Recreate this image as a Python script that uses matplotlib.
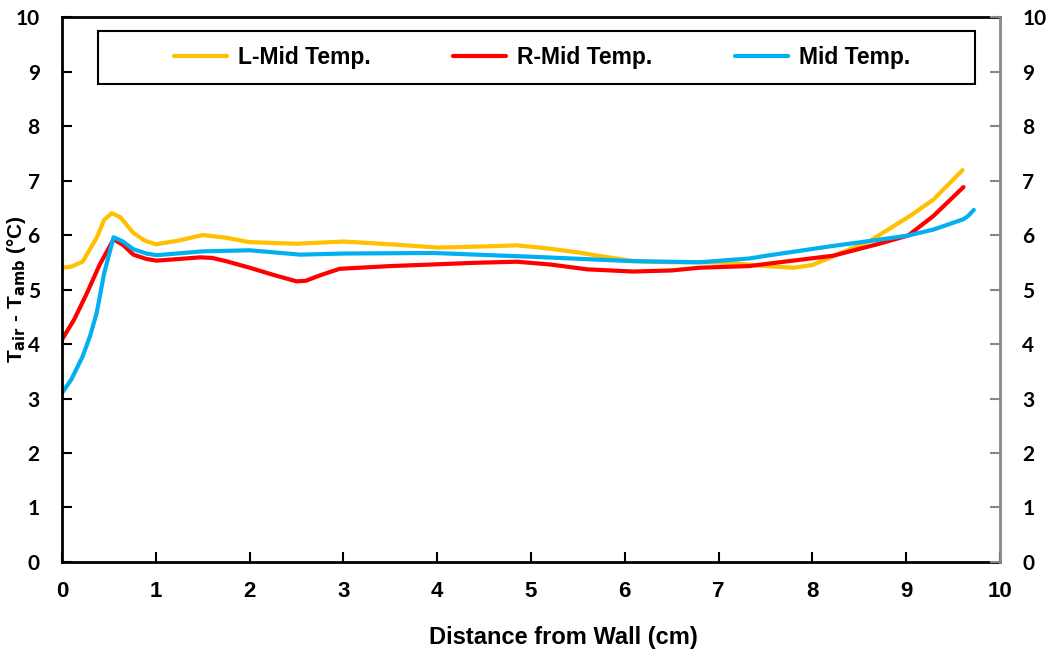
import matplotlib.pyplot as plt
from matplotlib.patches import Rectangle

# Temperature rise above ambient along the distance from the wall
x_left = [0, 0.1, 0.22, 0.37, 0.45, 0.53, 0.62, 0.76, 0.88, 1.0, 1.25, 1.5, 1.75,
          2.0, 2.5, 3.0, 3.5, 4.0, 4.5, 4.85, 5.2, 5.5, 5.75, 6.1, 6.5, 6.8, 7.1,
          7.51, 7.8, 8.0, 8.22, 8.61, 9.04, 9.29, 9.6]
t_left = [5.40, 5.42, 5.51, 5.95, 6.28, 6.40, 6.33, 6.04, 5.90, 5.83, 5.90, 6.00, 5.95,
          5.87, 5.84, 5.88, 5.83, 5.77, 5.79, 5.81, 5.75, 5.68, 5.61, 5.52, 5.50, 5.50, 5.49,
          5.43, 5.40, 5.45, 5.61, 5.89, 6.35, 6.65, 7.19]

x_right = [0, 0.13, 0.26, 0.4, 0.55, 0.65, 0.76, 0.9, 1.01, 1.25, 1.47, 1.6, 1.75,
           2.0, 2.25, 2.5, 2.6, 2.75, 2.96, 3.5, 3.96, 4.4, 4.85, 5.2, 5.6, 6.09,
           6.5, 6.8, 7.33, 7.51, 8.22, 8.69, 9.02, 9.29, 9.61]
t_right = [4.08, 4.45, 4.91, 5.45, 5.92, 5.82, 5.64, 5.56, 5.53, 5.56, 5.59, 5.58, 5.52,
           5.40, 5.27, 5.15, 5.16, 5.26, 5.38, 5.43, 5.46, 5.49, 5.51, 5.46, 5.37, 5.33,
           5.35, 5.40, 5.43, 5.47, 5.62, 5.83, 5.99, 6.35, 6.88]

x_mid = [0, 0.1, 0.22, 0.3, 0.37, 0.45, 0.55, 0.65, 0.76, 0.9, 1.01, 1.5, 2.0,
         2.54, 3.0, 3.96, 5.02, 6.09, 6.8, 7.33, 7.51, 8.22, 8.61, 9.02, 9.29,
         9.61, 9.66, 9.72]
t_mid = [3.10, 3.35, 3.77, 4.15, 4.57, 5.30, 5.96, 5.88, 5.74, 5.66, 5.63, 5.70, 5.72,
         5.64, 5.66, 5.67, 5.60, 5.52, 5.50, 5.57, 5.62, 5.80, 5.89, 5.99, 6.10,
         6.29, 6.35, 6.46]

labels = ['L-Mid Temp.', 'R-Mid Temp.', 'Mid Temp.']
colors = ['#FFC000', '#FF0000', '#00B0F0']

plt.rcParams['font.family'] = ['Liberation Sans', 'DejaVu Sans']
plt.rcParams['font.weight'] = 'bold'
plt.rcParams['mathtext.default'] = 'bf'

fig = plt.figure(figsize=(10.54, 6.55), dpi=100)
ax = fig.add_axes([0.0588, 0.142, 0.89, 0.832])

for xs, ys, lab, col in zip([x_left, x_right, x_mid], [t_left, t_right, t_mid], labels, colors):
    ax.plot(xs, ys, color=col, linewidth=3, label=lab,
            solid_joinstyle='round', solid_capstyle='round')

ax.set_xlim(0, 10)
ax.set_ylim(0, 10)
ax.set_xticks(range(0, 11))
ax.set_yticks(range(0, 11))
ax.tick_params(axis='both', direction='in', length=7, width=1.5)
ax.tick_params(axis='x', pad=14, labelsize=16)
ax.tick_params(axis='y', pad=16, labelsize=15)
for label in ax.get_xticklabels():
    label.set_fontweight('bold')
for label in ax.get_yticklabels():
    label.set_fontfamily(['Lato', 'DejaVu Sans'])
    label.set_fontweight('bold')

for side in ['left', 'bottom', 'top']:
    ax.spines[side].set_linewidth(2)
    ax.spines[side].set_color('black')

ax.set_xlabel('Distance from Wall (cm)', fontsize=17, fontweight='bold')
ax.xaxis.set_label_coords(0.534, -0.118)
ax.set_ylabel(r'T$_{air}$ - T$_{amb}$ (°C)', fontsize=15, fontweight='bold')
ax.yaxis.set_label_coords(-0.036, 0.5)

# Secondary axis on the right, same scale, grey spine
ax2 = ax.twinx()
ax2.set_ylim(0, 10)
ax2.set_yticks(range(0, 11))
ax2.tick_params(axis='y', direction='in', length=7, width=1.5, color='#888888',
                labelsize=15, pad=16)
for label in ax2.get_yticklabels():
    label.set_fontfamily(['Lato', 'DejaVu Sans'])
    label.set_fontweight('bold')
ax2.spines['right'].set_color('#888888')
ax2.spines['right'].set_linewidth(2)
for side in ['left', 'bottom', 'top']:
    ax2.spines[side].set_visible(False)

# Legend entries in one row, boxed by a plain rectangle
leg = ax.legend(loc='center', bbox_to_anchor=(0.512, 0.926), ncol=3, fontsize=16.5,
                frameon=False, handlelength=2.3, handletextpad=0.5,
                columnspacing=3.6)
for t in leg.get_texts():
    t.set_fontweight('bold')
ax.add_patch(Rectangle((0.038, 0.877), 0.935, 0.097, transform=ax.transAxes,
                       fill=False, edgecolor='black', linewidth=1.5, zorder=5))

plt.savefig('out.png', dpi=100)
